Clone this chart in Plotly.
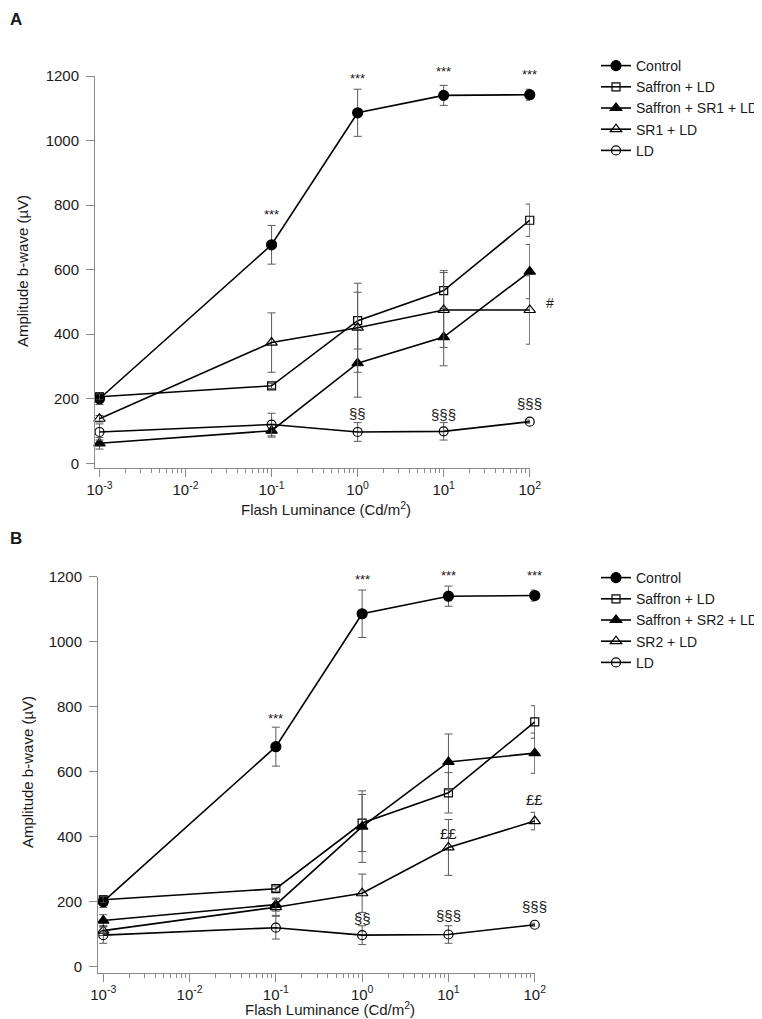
import math
import plotly.graph_objects as go

# ---------------- data ----------------
lum = [1e-3, 1e-1, 1e0, 1e1, 1e2]
lum_labels = ["10<sup>-3</sup>", "10<sup>-2</sup>", "10<sup>-1</sup>", "10<sup>0</sup>", "10<sup>1</sup>", "10<sup>2</sup>"]
lum_tickvals = [1e-3, 1e-2, 1e-1, 1e0, 1e1, 1e2]
amp_ticks = [0, 200, 400, 600, 800, 1000, 1200]

control = [200, 677, 1086, 1140, 1142]
control_err = [18, 60, 73, 31, 17]
saffron_ld = [206, 240, 442, 535, 753]
saffron_ld_err = [10, 8, 88, 62, 50]
ld = [97, 120, 97, 99, 129]
ld_err = [25, 35, 29, 27, 5]

# panel A
saffron_sr1_ld = [62, 101, 310, 391, 594]
saffron_sr1_ld_err = [18, 20, 105, 89, 84]
sr1_ld = [138, 374, 420, 475, 475]
sr1_ld_err = [10, 92, 138, 116, 106]

# panel B
saffron_sr2_ld = [142, 191, 431, 630, 657]
saffron_sr2_ld_err = [18, 20, 110, 86, 62]
sr2_ld = [111, 183, 226, 367, 448]
sr2_ld_err = [15, 25, 59, 86, 27]

# significance marks: (text, x, y)
sig_A = [("***", 1e-1, 772), ("***", 1e0, 1193), ("***", 1e1, 1214), ("***", 1e2, 1204),
         ("§§", 1e0, 155), ("§§§", 1e1, 150), ("§§§", 1e2, 184)]
hash_A = ("#", 10 ** 2.16, 497)
sig_B = [("***", 1e-1, 764), ("***", 1e0, 1192), ("***", 1e1, 1205), ("***", 1e2, 1205),
         ("££", 1e1, 410), ("££", 1e2, 513),
         ("§§", 1e0, 149), ("§§§", 1e1, 159), ("§§§", 1e2, 185)]

# ---------------- style ----------------
W, H = 762, 1019
OFF = 8  # page body margin
FONT = "Liberation Sans, Arial, sans-serif"
AXC = "#8a8a8a"
ERRC = "#5a5a5a"
TXT = "#1a1a1a"

def px(xp):
    return (xp - OFF) / W

def py(yp):
    return 1 - (yp - OFF) / H

fig = go.Figure()

def add_series(name, y, err, symbol, size, xa, ya, legend):
    fig.add_trace(go.Scatter(
        x=lum, y=y, name=name, mode="lines+markers",
        line=dict(color="black", width=1.6),
        marker=dict(symbol=symbol, size=size, color="black",
                    line=dict(color="black", width=1.2)),
        error_y=dict(type="data", array=err, visible=True, color=ERRC,
                     thickness=1, width=4),
        xaxis=xa, yaxis=ya, legend=legend, showlegend=True,
        cliponaxis=False,
    ))

# Panel A
add_series("Control", control, control_err, "circle", 10, "x", "y", "legend")
add_series("Saffron + LD", saffron_ld, saffron_ld_err, "square-open", 8, "x", "y", "legend")
add_series("Saffron + SR1 + LD", saffron_sr1_ld, saffron_sr1_ld_err, "triangle-up", 10, "x", "y", "legend")
add_series("SR1 + LD", sr1_ld, sr1_ld_err, "triangle-up-open", 10, "x", "y", "legend")
add_series("LD", ld, ld_err, "circle-open", 9, "x", "y", "legend")

# Panel B
add_series("Control", control, control_err, "circle", 10, "x2", "y2", "legend2")
add_series("Saffron + LD", saffron_ld, saffron_ld_err, "square-open", 8, "x2", "y2", "legend2")
add_series("Saffron + SR2 + LD", saffron_sr2_ld, saffron_sr2_ld_err, "triangle-up", 10, "x2", "y2", "legend2")
add_series("SR2 + LD", sr2_ld, sr2_ld_err, "triangle-up-open", 10, "x2", "y2", "legend2")
add_series("LD", ld, ld_err, "circle-open", 9, "x2", "y2", "legend2")

minor_vals = [k * 10.0 ** e for e in range(-3, 2) for k in range(2, 10)]

def xaxis_cfg(domain, rng, anchor):
    return dict(
        type="log", domain=domain, range=rng, anchor=anchor, automargin=False,
        tickmode="array", tickvals=lum_tickvals, ticktext=lum_labels,
        ticks="outside", ticklen=8, tickwidth=1, tickcolor=AXC,
        showline=True, linecolor=AXC, linewidth=1, showgrid=False, zeroline=False,
        tickfont=dict(family=FONT, size=15, color=TXT),
        minor=dict(tickmode="array", tickvals=minor_vals, ticks="outside",
                   ticklen=4, tickcolor=AXC, tickwidth=1, showgrid=False),
    )

def yaxis_cfg(domain, rng, anchor):
    return dict(
        domain=domain, range=rng, anchor=anchor, automargin=False,
        tickmode="array", tickvals=amp_ticks,
        ticks="outside", ticklen=8, tickwidth=1, tickcolor=AXC,
        ticklabelstandoff=4,
        showline=True, linecolor=AXC, linewidth=1, showgrid=False, zeroline=False,
        tickfont=dict(family=FONT, size=15, color=TXT),
    )

XR_A = [-3.052, 2.003]
YR_A = [-14.6, 1200]
XR_B = [-3.061, 2.003]
YR_B = [-18.5, 1200]

xa = xaxis_cfg([px(95), px(530)], XR_A, "y")
ya = yaxis_cfg([py(468), py(76)], YR_A, "x")
xb = xaxis_cfg([px(98), px(535)], XR_B, "y2")
yb = yaxis_cfg([py(972.7), py(576.7)], YR_B, "x2")

ann = []
def add_text(text, x, y, xref, yref, size, xanchor="center", yanchor="middle", bold=False, angle=0):
    ann.append(dict(text=("<b>%s</b>" % text) if bold else text, x=x, y=y,
                    xref=xref, yref=yref, showarrow=False, xanchor=xanchor,
                    yanchor=yanchor, textangle=angle,
                    font=dict(family=FONT, size=size, color=TXT)))

def dom(v, rng):
    return (v - rng[0]) / (rng[1] - rng[0])

for t, xv, yv in sig_A:
    add_text(t, dom(math.log10(xv), XR_A), dom(yv, YR_A), "x domain", "y domain",
             13 if t == "***" else 15)
add_text(hash_A[0], dom(math.log10(hash_A[1]), XR_A), dom(hash_A[2], YR_A),
         "x domain", "y domain", 14, xanchor="left")
for t, xv, yv in sig_B:
    add_text(t, dom(math.log10(xv), XR_B), dom(yv, YR_B), "x2 domain", "y2 domain",
             13 if t == "***" else 15)

# panel letters, axis titles
add_text("A", 0, 1, "paper", "paper", 17, xanchor="left", yanchor="top", bold=True)
add_text("B", 0, py(527), "paper", "paper", 17, xanchor="left", yanchor="top", bold=True)
add_text("Flash Luminance (Cd/m<sup>2</sup>)", px(326), py(508), "paper", "paper", 15)
add_text("Flash Luminance (Cd/m<sup>2</sup>)", px(330), py(1008), "paper", "paper", 15)
add_text("Amplitude b-wave (µV)", px(23), py(271), "paper", "paper", 15, angle=-90)
add_text("Amplitude b-wave (µV)", px(27), py(772), "paper", "paper", 15, angle=-90)

leg_common = dict(font=dict(family=FONT, size=14, color=TXT), bgcolor="rgba(0,0,0,0)",
                  borderwidth=0, xanchor="left", yanchor="top", tracegroupgap=0,
                  itemwidth=30)

fig.update_layout(
    template="none",
    width=W, height=H, autosize=False,
    margin=dict(l=0, r=0, t=0, b=0, pad=0),
    paper_bgcolor="white", plot_bgcolor="white",
    xaxis=xa, yaxis=ya, xaxis2=xb, yaxis2=yb,
    annotations=ann,
    legend=dict(x=px(596), y=py(50), **leg_common),
    legend2=dict(x=px(596), y=py(562), **leg_common),
    font=dict(family=FONT, size=14, color=TXT),
)

fig.write_html("out.html")
